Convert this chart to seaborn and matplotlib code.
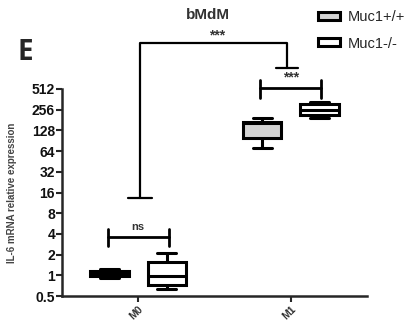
import matplotlib
matplotlib.use("Agg")
import matplotlib.pyplot as plt
import matplotlib.ticker as mticker
import numpy as np
import pandas as pd
import seaborn as sns

sns.set_style("ticks")
plt.rcParams['font.family'] = ['Liberation Sans', 'DejaVu Sans']

# values (min, q1, median, q3, max per group)
cells = ["M0", "M1"]
genotypes = ["Muc1+/+", "Muc1-/-"]
m0_wt = [0.90, 0.97, 1.05, 1.16, 1.24]
m0_ko = [0.63, 0.72, 0.97, 1.55, 2.09]
m1_wt = [70, 98, 165, 168, 192]
m1_ko = [192, 212, 251, 307, 328]
yticks = [0.5, 1, 2, 4, 8, 16, 32, 64, 128, 256, 512]
ytick_labels = ["0.5", "1", "2", "4", "8", "16", "32", "64", "128", "256", "512"]

rows = []
for cell, geno, vals in [("M0", "Muc1+/+", m0_wt), ("M0", "Muc1-/-", m0_ko),
                         ("M1", "Muc1+/+", m1_wt), ("M1", "Muc1-/-", m1_ko)]:
    for v in vals:
        rows.append({"cell": cell, "genotype": geno, "expr": v})
df = pd.DataFrame(rows)

fig = plt.figure(figsize=(4.04, 3.29), dpi=100)
ax = fig.add_axes([62/404, 1-296/329, 305/404, 207/329])

sns.boxplot(data=df, x="cell", y="expr", hue="genotype", order=cells, hue_order=genotypes,
            palette={"Muc1+/+": "#d3d3d3", "Muc1-/-": "white"}, linecolor="black",
            linewidth=2.2, width=0.75, gap=0.33, whis=(0, 100), log_scale=2,
            fliersize=0, ax=ax)

ax.set_ylim(0.5, 512)
ax.set_xlim(-0.5, 1.5)
ax.set_yticks(yticks)
ax.set_yticklabels(ytick_labels, fontsize=10, fontweight="bold", color="#111111")
ax.yaxis.set_minor_locator(mticker.LogLocator(base=2, subs=(1.25, 1.5, 1.75)))
ax.yaxis.set_minor_formatter(mticker.NullFormatter())
ax.tick_params(axis="y", which="major", length=4, width=1.5, pad=1)
ax.tick_params(axis="y", which="minor", length=2.5, width=1)
ax.tick_params(axis="x", length=4, width=1.5, pad=2)
ax.set_xticks([0, 1])
ax.set_xticklabels(cells, rotation=45, ha="right", va="top", rotation_mode="anchor",
                   fontsize=7.5, fontweight="bold", color="#333333")
ax.set_xlabel("")
ax.set_ylabel("IL-6 mRNA relative expression", fontsize=7, fontweight="bold", color="#444444")
ax.yaxis.set_label_coords(-45/305, 0.5)
sns.despine(ax=ax)
for s in ["left", "bottom"]:
    ax.spines[s].set_linewidth(1.8)

# significance brackets
lw = 2
ax.plot([-0.2, 0.2], [3.57, 3.57], color="black", lw=lw, clip_on=False)
for x in [-0.2, 0.2]:
    ax.plot([x, x], [2.64, 4.66], color="black", lw=lw, clip_on=False)
ax.text(0, 4.2, "ns", ha="center", va="bottom", fontsize=8, fontweight="bold", color="#333333")

ax.plot([0.8, 1.2], [524, 524], color="black", lw=lw, clip_on=False)
for x in [0.8, 1.2]:
    ax.plot([x, x], [375, 685], color="black", lw=lw, clip_on=False)
ax.text(1, 600, "***", ha="center", va="bottom", fontsize=10, fontweight="bold",
        color="#333333", clip_on=False)

ax.plot([0.013, 0.013, 0.975, 0.975], [13.2, 2370, 2370, 1024], color="black", lw=1.6, clip_on=False)
ax.plot([-0.065, 0.09], [13.2, 13.2], color="black", lw=1.6, clip_on=False)
ax.plot([0.9, 1.05], [1024, 1024], color="black", lw=1.6, clip_on=False)
ax.text(0.52, 2450, "***", ha="center", va="bottom", fontsize=10, fontweight="bold",
        color="#333333", clip_on=False)

# legend
handles, labels = ax.get_legend_handles_labels()
leg = ax.legend(handles, labels, loc="upper left", bbox_to_anchor=(308/404, 1.0),
                bbox_transform=fig.transFigure, frameon=False, fontsize=10.5,
                handlelength=1.5, handleheight=0.45, handletextpad=0.55, labelspacing=0.85,
                borderaxespad=0.3)
for h in leg.legend_handles:
    h.set_linewidth(2.2)

fig.text(208/404, 1-15/329, "bMdM", ha="center", va="center", fontsize=11,
         fontweight="bold", color="#333333")
fig.text(25/404, 1-52/329, "E", ha="center", va="center", fontsize=20, fontweight="bold",
         family=["Open Sans", "DejaVu Sans"])

fig.savefig("out.png", dpi=100)
